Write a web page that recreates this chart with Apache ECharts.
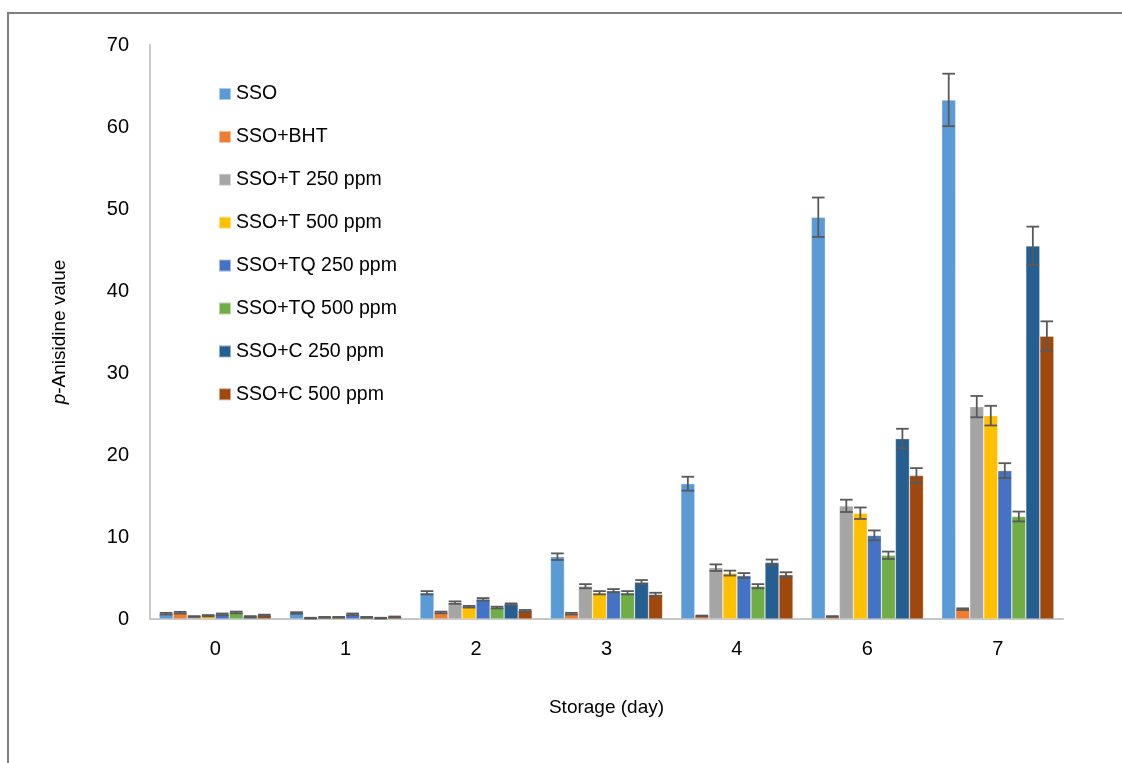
<!DOCTYPE html>
<html>
<head>
<meta charset="utf-8">
<script src="https://cdn.jsdelivr.net/npm/echarts@6/dist/echarts.min.js"></script>
<style>html,body{margin:0;padding:0;background:#fff}#c{width:1122px;height:763px}</style>
</head>
<body>
<div id="c"></div>
<script>
var days = ['0', '1', '2', '3', '4', '6', '7'];
var seriesNames = ['SSO', 'SSO+BHT', 'SSO+T 250 ppm', 'SSO+T 500 ppm', 'SSO+TQ 250 ppm', 'SSO+TQ 500 ppm', 'SSO+C 250 ppm', 'SSO+C 500 ppm'];
var colors = ['#5B9BD5', '#ED7D31', '#A5A5A5', '#FFC000', '#4472C4', '#70AD47', '#255E91', '#9E480E'];
var yTicks = [0, 10, 20, 30, 40, 50, 60, 70];

var sso      = [0.65, 0.73, 3.2, 7.6, 16.5, 49.0, 63.3];
var ssoBHT   = [0.77, 0.10, 0.8, 0.65, 0.37, 0.3, 1.2];
var ssoT250  = [0.30, 0.20, 2.0, 4.0, 6.26, 13.8, 25.9];
var ssoT500  = [0.40, 0.20, 1.5, 3.2, 5.6, 12.9, 24.8];
var ssoTQ250 = [0.57, 0.57, 2.4, 3.45, 5.3, 10.2, 18.1];
var ssoTQ500 = [0.80, 0.20, 1.4, 3.2, 4.0, 7.77, 12.5];
var ssoC250  = [0.30, 0.10, 1.8, 4.5, 6.9, 22.0, 45.5];
var ssoC500  = [0.45, 0.25, 1.0, 3.0, 5.4, 17.5, 34.5];

var errSSO      = [0.10, 0.10, 0.20, 0.40, 0.85, 2.4, 3.2];
var errBHT      = [0.10, 0.05, 0.10, 0.10, 0.05, 0.05, 0.10];
var errT250     = [0.05, 0.05, 0.15, 0.25, 0.40, 0.75, 1.3];
var errT500     = [0.08, 0.05, 0.10, 0.20, 0.30, 0.70, 1.2];
var errTQ250    = [0.10, 0.10, 0.15, 0.20, 0.30, 0.60, 0.9];
var errTQ500    = [0.10, 0.05, 0.10, 0.20, 0.25, 0.45, 0.6];
var errC250     = [0.05, 0.05, 0.10, 0.25, 0.35, 1.2, 2.35];
var errC500     = [0.08, 0.05, 0.10, 0.20, 0.30, 0.9, 1.8];

var values = [sso, ssoBHT, ssoT250, ssoT500, ssoTQ250, ssoTQ500, ssoC250, ssoC500];
var errors = [errSSO, errBHT, errT250, errT500, errTQ250, errTQ500, errC250, errC500];

var catGap = 0.14;
var nSeries = seriesNames.length;
var font = 'Liberation Sans, Arial, sans-serif';

var series = [];
values.forEach(function (vals, i) {
  series.push({
    name: seriesNames[i],
    type: 'bar',
    data: vals,
    barGap: '0%',
    barCategoryGap: (catGap * 100) + '%',
    itemStyle: { color: colors[i], borderColor: 'rgba(255,255,255,0.5)', borderWidth: 0.6 }
  });
});
values.forEach(function (vals, i) {
  series.push({
    name: 'err' + i,
    type: 'custom',
    z: 10,
    data: vals.map(function (v, k) { return [k, v, errors[i][k]]; }),
    renderItem: function (params, api) {
      var k = api.value(0), v = api.value(1), e = api.value(2);
      var band = api.size([1, 0])[0];
      var barW = band * (1 - catGap) / nSeries;
      var top = api.coord([k, v + e]);
      var bot = api.coord([k, Math.max(v - e, 0)]);
      var x = top[0] - band * (1 - catGap) / 2 + (i + 0.5) * barW;
      var hw = barW * 0.45;
      var st = { stroke: '#595959', lineWidth: 1.8 };
      return {
        type: 'group',
        children: [
          { type: 'line', shape: { x1: x, y1: top[1], x2: x, y2: bot[1] }, style: st },
          { type: 'line', shape: { x1: x - hw, y1: top[1], x2: x + hw, y2: top[1] }, style: st },
          { type: 'line', shape: { x1: x - hw, y1: bot[1], x2: x + hw, y2: bot[1] }, style: st }
        ]
      };
    }
  });
});

var chart = echarts.init(document.getElementById('c'));
chart.setOption({
  animation: false,
  backgroundColor: '#fff',
  graphic: [{
    type: 'rect',
    shape: { x: 8, y: 13, width: 1200, height: 800 },
    style: { fill: 'none', stroke: '#7f7f7f', lineWidth: 2 },
    silent: true, z: -1
  }],
  legend: {
    data: seriesNames,
    orient: 'vertical',
    left: 218,
    top: 84,
    padding: 0,
    itemWidth: 12,
    itemHeight: 12,
    itemGap: 22.9,
    icon: 'rect',
    textStyle: { fontFamily: font, fontSize: 19.5, color: '#000' }
  },
  grid: { left: 150, right: 59, top: 45, bottom: 144 },
  xAxis: {
    type: 'category',
    data: days,
    name: 'Storage (day)',
    nameLocation: 'middle',
    nameGap: 79,
    nameTextStyle: { fontFamily: font, fontSize: 19, color: '#000' },
    axisLine: { lineStyle: { color: '#C8C8C8', width: 2 } },
    axisTick: { show: false },
    axisLabel: { fontFamily: font, fontSize: 20, color: '#000', margin: 20 }
  },
  yAxis: {
    type: 'value',
    min: yTicks[0],
    max: yTicks[yTicks.length - 1],
    interval: 10,
    name: '{i|p}-Anisidine value',
    nameLocation: 'middle',
    nameGap: 81,
    nameTextStyle: {
      fontFamily: font, fontSize: 19, color: '#000',
      rich: { i: { fontFamily: font, fontSize: 19, fontStyle: 'italic', color: '#000' } }
    },
    axisLine: { show: true, lineStyle: { color: '#C8C8C8', width: 2 } },
    axisTick: { show: false },
    splitLine: { show: false },
    axisLabel: { fontFamily: font, fontSize: 20, color: '#000', margin: 21 }
  },
  series: series
});
</script>
</body>
</html>
